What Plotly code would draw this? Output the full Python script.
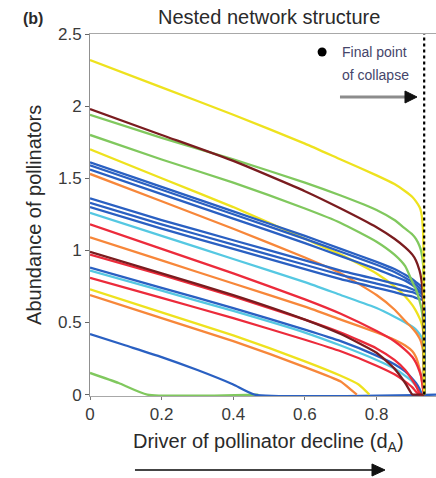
import plotly.graph_objects as go

# ---- data ----
COLLAPSE_D = 0.933
D = [0, 0.2, 0.4, 0.6, 0.7, 0.8, 0.85, 0.88, 0.9, 0.91, 0.92, 0.925, 0.93, 0.933]

yellow_a = [2.32, 2.13, 1.94, 1.74, 1.63, 1.52, 1.46, 1.41, 1.37, 1.34, 1.30, 1.26, 1.12, 0]
brown_a  = [1.98, 1.80, 1.62, 1.41, 1.29, 1.16, 1.08, 1.02, 0.97, 0.93, 0.86, 0.80, 0.65, 0]
green_a  = [1.94, 1.78, 1.63, 1.47, 1.38, 1.28, 1.21, 1.15, 1.11, 1.08, 1.03, 0.99, 0.90, 0]
green_b  = [1.80, 1.63, 1.47, 1.29, 1.19, 1.06, 0.97, 0.89, 0.78, 0.73, 0.65, 0.60, 0.50, 0]
yellow_b = [1.70, 1.50, 1.30, 1.08, 0.97, 0.84, 0.75, 0.68, 0.62, 0.58, 0.53, 0.50, 0.44, 0]
blue_a   = [1.61, 1.44, 1.27, 1.10, 1.01, 0.92, 0.87, 0.83, 0.80, 0.78, 0.76, 0.75, 0.73, 0]
blue_b   = [1.59, 1.42, 1.25, 1.08, 0.99, 0.90, 0.85, 0.81, 0.78, 0.76, 0.74, 0.73, 0.72, 0]
blue_c   = [1.56, 1.39, 1.22, 1.05, 0.96, 0.87, 0.82, 0.79, 0.76, 0.74, 0.72, 0.71, 0.70, 0]
orange_a = [1.53, 1.34, 1.15, 0.95, 0.84, 0.69, 0.59, 0.51, 0.46, 0.43, 0.39, 0.36, 0.30, 0]
blue_d   = [1.36, 1.21, 1.07, 0.93, 0.86, 0.80, 0.77, 0.75, 0.73, 0.72, 0.71, 0.70, 0.69, 0]
blue_e   = [1.33, 1.18, 1.04, 0.90, 0.83, 0.77, 0.74, 0.72, 0.71, 0.70, 0.69, 0.68, 0.67, 0]
blue_f   = [1.30, 1.15, 1.01, 0.87, 0.80, 0.74, 0.71, 0.69, 0.68, 0.67, 0.66, 0.66, 0.65, 0]
cyan_a   = [1.26, 1.10, 0.94, 0.78, 0.69, 0.60, 0.54, 0.50, 0.47, 0.45, 0.42, 0.40, 0.36, 0]
red_a    = [1.18, 1.01, 0.84, 0.66, 0.56, 0.44, 0.37, 0.31, 0.26, 0.22, 0.16, 0.12, 0.04, 0]
orange_b = [1.09, 0.93, 0.77, 0.61, 0.52, 0.43, 0.38, 0.34, 0.30, 0.26, 0.18, 0.12, 0.03, 0]
brown_b  = [0.99, 0.84, 0.69, 0.52, 0.42, 0.29, 0.18, 0.08, 0, 0, 0, 0, 0, 0]
red_b    = [0.97, 0.83, 0.68, 0.52, 0.43, 0.32, 0.24, 0.17, 0.10, 0.06, 0.01, 0, 0, 0]
blue_g   = [0.88, 0.74, 0.60, 0.45, 0.37, 0.27, 0.21, 0.16, 0.11, 0.08, 0.04, 0.01, 0, 0]
cyan_b   = [0.86, 0.72, 0.58, 0.43, 0.34, 0.24, 0.18, 0.13, 0.09, 0.06, 0.02, 0, 0, 0]
red_c    = [0.81, 0.67, 0.53, 0.38, 0.30, 0.20, 0.14, 0.09, 0.05, 0.02, 0, 0, 0, 0]

yellow_c_x = [0, 0.2, 0.4, 0.6, 0.7, 0.75, 0.78]
yellow_c   = [0.73, 0.57, 0.41, 0.23, 0.13, 0.07, 0]
orange_c_x = [0, 0.2, 0.4, 0.6, 0.7, 0.73, 0.745]
orange_c   = [0.69, 0.53, 0.37, 0.19, 0.09, 0.03, 0]
blue_h_x   = [0, 0.1, 0.2, 0.3, 0.4, 0.46, 0.966]
blue_h     = [0.42, 0.34, 0.26, 0.17, 0.07, 0, 0]
green_c_x  = [0, 0.08, 0.16, 0.47]
green_c    = [0.15, 0.08, 0, 0]

X_TICKS = [0, 0.2, 0.4, 0.6, 0.8]
X_TICK_LABELS = ["0", "0.2", "0.4", "0.6", "0.8"]
Y_TICKS = [0, 0.5, 1, 1.5, 2, 2.5]
Y_TICK_LABELS = ["0", "0.5", "1", "1.5", "2", "2.5"]

YELLOW = "#eee21e"
BROWN = "#7a1c1f"
GREEN = "#80c85e"
BLUE = "#2a60c2"
ORANGE = "#f7873a"
CYAN = "#55c8e2"
RED = "#ec2b3b"

grid_curves = [
    (red_c, RED), (cyan_b, CYAN), (blue_g, BLUE), (red_b, RED), (brown_b, BROWN),
    (orange_b, ORANGE), (red_a, RED), (cyan_a, CYAN), (orange_a, ORANGE), (yellow_b, YELLOW),
    (blue_f, BLUE), (blue_e, BLUE), (blue_d, BLUE), (blue_c, BLUE), (blue_b, BLUE),
    (blue_a, BLUE), (green_b, GREEN), (green_a, GREEN), (brown_a, BROWN), (yellow_a, YELLOW),
]
own_curves = [
    (green_c_x, green_c, GREEN), (blue_h_x, blue_h, BLUE),
    (orange_c_x, orange_c, ORANGE), (yellow_c_x, yellow_c, YELLOW),
]

fig = go.Figure()
LW = 2.3
for xs, ys, col in own_curves:
    fig.add_trace(go.Scatter(x=xs, y=ys, mode="lines",
                             line=dict(color=col, width=LW, shape="spline", smoothing=0.5),
                             showlegend=False, hoverinfo="skip"))
for ys, col in grid_curves:
    fig.add_trace(go.Scatter(x=D, y=ys, mode="lines",
                             line=dict(color=col, width=LW, shape="spline", smoothing=0.5),
                             showlegend=False, hoverinfo="skip"))

# dotted collapse line
fig.add_trace(go.Scatter(x=[COLLAPSE_D, COLLAPSE_D], y=[0, 2.5], mode="lines",
                         line=dict(color="black", width=2.2, dash="dot"),
                         showlegend=False, hoverinfo="skip"))

# black dot of the note
fig.add_trace(go.Scatter(x=[0.648], y=[2.375], mode="markers",
                         marker=dict(color="black", size=9), showlegend=False,
                         hoverinfo="skip"))

FONT = "Liberation Sans, Arial, sans-serif"

fig.update_layout(
    width=436, height=478,
    margin=dict(l=90, r=0, t=34, b=82),
    paper_bgcolor="white", plot_bgcolor="white",
    font=dict(family=FONT, color="#333333", size=17),
    xaxis=dict(range=[0, 0.966], showgrid=False, zeroline=False,
               showline=True, mirror=True, linecolor="#a8a8a8", linewidth=1,
               ticks="outside", ticklen=3, tickcolor="#777",
               tickvals=X_TICKS, ticktext=X_TICK_LABELS,
               tickfont=dict(size=17, color="#3a3a3a")),
    yaxis=dict(range=[-0.01, 2.5], showgrid=False, zeroline=False,
               showline=True, linecolor="#909090", linewidth=1,
               ticks="outside", ticklen=4, tickcolor="#666",
               tickvals=Y_TICKS, ticktext=Y_TICK_LABELS,
               tickfont=dict(size=17, color="#3a3a3a")),
    shapes=[
        # top arrow (grey shaft, black head)
        dict(type="line", xref="paper", yref="paper", x0=0.7225, x1=0.915, y0=0.826, y1=0.826,
             line=dict(color="#8c8c8c", width=3)),
        dict(type="path", xref="paper", yref="paper",
             path="M 0.9104,0.8425 L 0.9451,0.826 L 0.9104,0.8094 Z",
             fillcolor="#111111", line=dict(color="#111111", width=1)),
        # bottom arrow
        dict(type="line", xref="paper", yref="paper", x0=0.130, x1=0.82, y0=-0.2044, y1=-0.2044,
             line=dict(color="#444444", width=2)),
        dict(type="path", xref="paper", yref="paper",
             path="M 0.815,-0.1878 L 0.8526,-0.2044 L 0.815,-0.221 Z",
             fillcolor="#111111", line=dict(color="#111111", width=1)),
    ],
)

ann = []
ann.append(dict(text="Nested network structure", xref="paper", yref="paper",
                x=0.517, y=1.047, showarrow=False, font=dict(size=20, color="#2a2a2a"),
                xanchor="center", yanchor="middle"))
ann.append(dict(text="<b>(b)</b>", xref="paper", yref="paper",
                x=-0.165, y=1.044, showarrow=False, font=dict(size=16, color="#2a2a2a"),
                xanchor="center", yanchor="middle"))
ann.append(dict(text="Driver of pollinator decline (d<sub>A</sub>)", xref="paper", yref="paper",
                x=0.517, y=-0.128, showarrow=False, font=dict(size=20, color="#2a2a2a"),
                xanchor="center", yanchor="middle"))
ann.append(dict(text="Abundance of pollinators", xref="paper", yref="paper",
                x=-0.162, y=0.5, showarrow=False, textangle=-90,
                font=dict(size=20, color="#2a2a2a"), xanchor="center", yanchor="middle"))
ann.append(dict(text="Final point", xref="x", yref="y", x=0.698, y=2.375,
                showarrow=False, xanchor="left", yanchor="middle",
                font=dict(size=14, color="#45456a")))
ann.append(dict(text="of collapse", xref="x", yref="y", x=0.698, y=2.215,
                showarrow=False, xanchor="left", yanchor="middle",
                font=dict(size=14, color="#45456a")))
fig.update_layout(annotations=ann)

fig.write_html("out.html", config={"displayModeBar": False},
               post_script="document.body.style.margin='0';document.body.style.overflow='hidden';")
